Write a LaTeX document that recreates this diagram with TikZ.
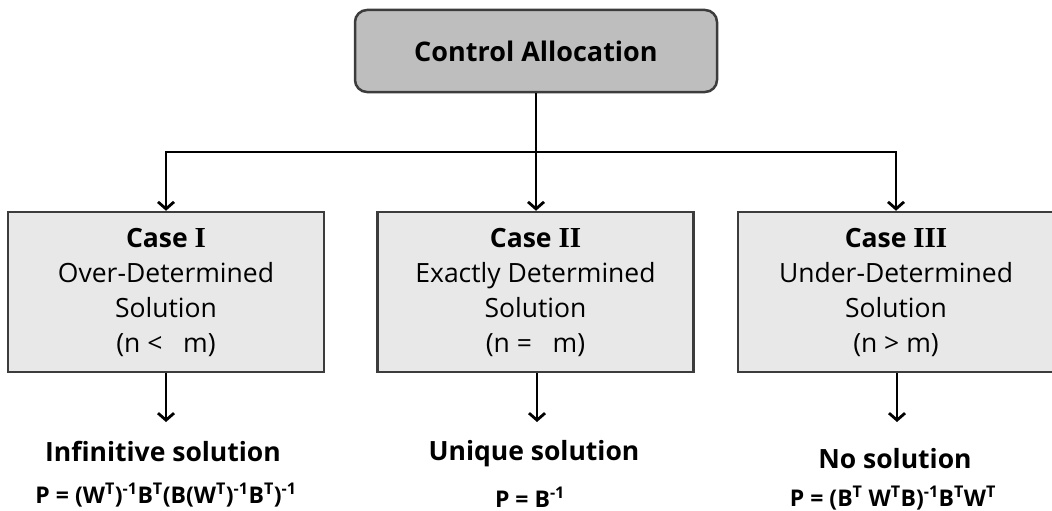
\documentclass[tikz,border=0pt]{standalone}
\usepackage{fontspec}
\setmainfont{Open Sans}
\newfontfamily\numfont{Liberation Serif}
\usetikzlibrary{arrows.meta}
\definecolor{topfill}{RGB}{190,190,190}
\definecolor{casefill}{RGB}{232,232,232}
\definecolor{edge}{RGB}{60,60,60}
\tikzset{
  topbox/.style={draw=edge, line width=2.5pt, fill=topfill, rounded corners=12pt,
    minimum width=362pt, minimum height=82pt, inner sep=0pt,
    font=\fontsize{27}{30}\selectfont\bfseries},
  casebox/.style={draw=edge, line width=2.5pt, fill=casefill,
    minimum width=316pt, minimum height=160pt, inner sep=0pt, align=center,
    font=\fontsize{26.5}{35}\selectfont},
  conn/.style={line width=2.8pt, black},
  arr/.style={conn, -{Straight Barb[length=7pt,width=16pt,line width=2.8pt]}},
  sollabel/.style={inner sep=0pt, font=\fontsize{26.5}{30}\selectfont\bfseries},
  formula/.style={inner sep=0pt, font=\fontsize{23}{26}\selectfont\bfseries},
}
\newcommand{\sps}[1]{\textsuperscript{#1}}
\begin{document}
\begin{tikzpicture}[x=1pt,y=-1pt]
\useasboundingbox (0,0) rectangle (1052,511);
\node[topbox] (top) at (536,51) {Control Allocation};
\node[casebox] (c1) at (166,292) {{\bfseries Case {\numfont\fontsize{29}{35}\selectfont I}}\\Over-Determined\\Solution\\(n <\ \ \ m)};
\node[casebox] (c2) at (535.5,292) {{\bfseries Case {\numfont\fontsize{29}{35}\selectfont II}}\\Exactly Determined\\Solution\\(n =\ \ \ m)};
\node[casebox] (c3) at (896,292) {{\bfseries Case {\numfont\fontsize{29}{35}\selectfont III}}\\Under-Determined\\Solution\\(n > m)};
\coordinate (j) at (536,152);
\coordinate (jl) at (166,152);
\coordinate (jr) at (896,152);
\draw[conn] (top.south) -- (j);
\draw[conn, line cap=rect] (jl) -- (jr);
\draw[arr] (jl) -- (c1.north);
\draw[arr] (j) -- (c2.north -| j);
\draw[arr] (jr) -- (c3.north);
\coordinate (a1) at (166,422);
\coordinate (a2) at (537,422);
\coordinate (a3) at (897,422);
\draw[arr] (c1.south) -- (a1);
\draw[arr] (c2.south -| a2) -- (a2);
\draw[arr] (c3.south -| a3) -- (a3);
\node[sollabel] (s1) at (163,451) {Infinitive solution};
\node[sollabel] (s2) at (534,454) {Unique solution};
\node[sollabel] (s3) at (895,459) {No solution};
\node[formula] (f1) at (166,495) {P =\ (W\sps{T})\sps{-1}B\sps{T}(B(W\sps{T})\sps{-1}B\sps{T})\sps{-1}};
\node[formula] (f2) at (530,497) {P = B\sps{-1}};
\node[formula] (f3) at (893,498) {P =\ (B\sps{T} W\sps{T}B)\sps{-1}B\sps{T}W\sps{T}};
\end{tikzpicture}
\end{document}
